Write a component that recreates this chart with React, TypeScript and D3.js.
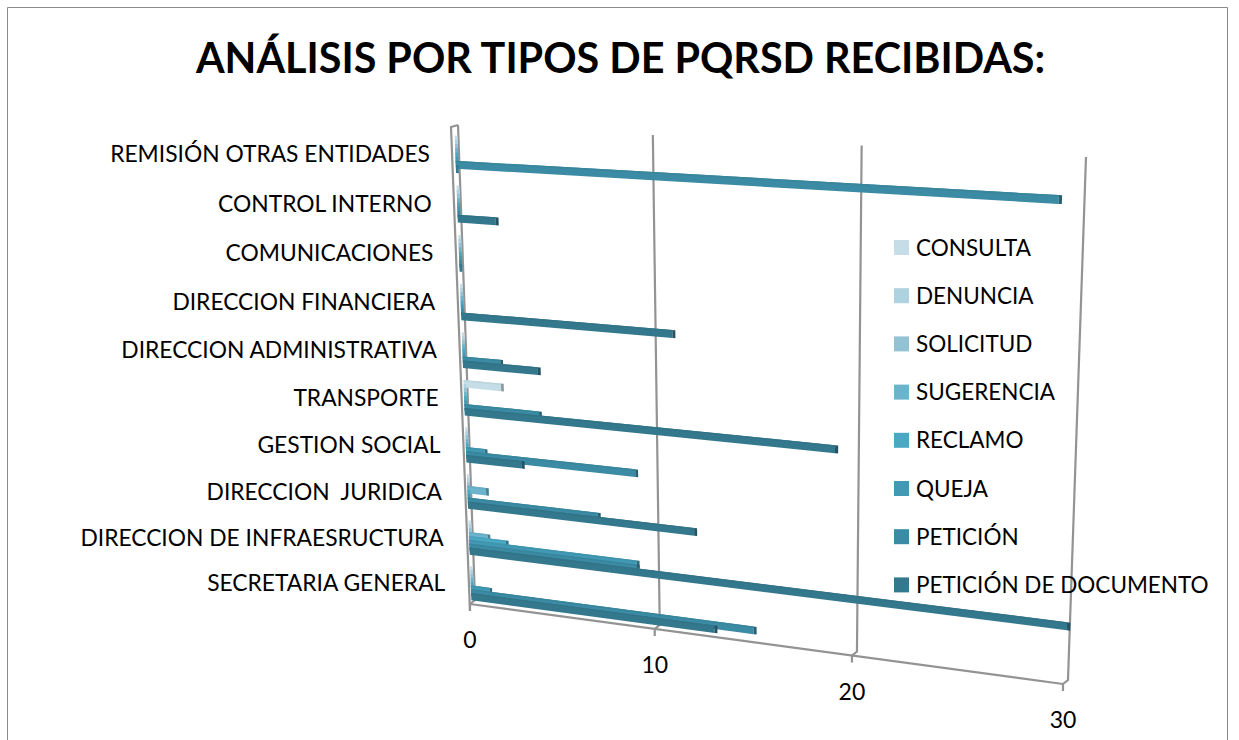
import * as d3 from "d3";

const width = 1239;
const height = 740;

const title = "ANÁLISIS POR TIPOS DE PQRSD RECIBIDAS:";

// bottom to top, as they sit on the axis
const categories = [
  "SECRETARIA GENERAL",
  "DIRECCION DE INFRAESRUCTURA",
  "DIRECCION  JURIDICA",
  "GESTION SOCIAL",
  "TRANSPORTE",
  "DIRECCION ADMINISTRATIVA",
  "DIRECCION FINANCIERA",
  "COMUNICACIONES",
  "CONTROL INTERNO",
  "REMISIÓN OTRAS ENTIDADES",
];

const series = [
  "CONSULTA",
  "DENUNCIA",
  "SOLICITUD",
  "SUGERENCIA",
  "RECLAMO",
  "QUEJA",
  "PETICIÓN",
  "PETICIÓN DE DOCUMENTO",
];

const colors = ["#c5dde6", "#aed2df", "#93c2d5", "#6bb4cc", "#4aa8c3", "#4299b3", "#3a8ba3", "#34788d"];

// one value per category, same order as categories
const consulta = [0, 0, 0, 0, 2, 0, 0, 0, 0, 0];
const denuncia = [0, 0, 0, 0, 0, 0, 0, 0, 0, 0];
const solicitud = [0, 0, 0, 0, 0, 0, 0, 0, 0, 0];
const sugerencia = [0, 1, 1, 0, 0, 0, 0, 0, 0, 0];
const reclamo = [0, 2, 0, 0, 0, 0, 0, 0, 0, 0];
const queja = [1, 9, 0, 1, 0, 0, 0, 0, 0, 0];
const peticion = [15, 9, 7, 9, 4, 2, 0, 0, 0, 29];
const peticionDoc = [13, 30, 12, 3, 19, 4, 11, 0, 2, 0];
const values = [consulta, denuncia, solicitud, sugerencia, reclamo, queja, peticion, peticionDoc];

const ticks = [0, 10, 20, 30];

// corners of the back wall on the page, the chart is a tilted 3D one
const wall = { x00: 475, y00: 600, x10: 1068, y10: 680, x11: 1086, y11: 157, x01: 458, y01: 125 };

function makeProjection({ x00, y00, x10, y10, x11, y11, x01, y01 }: typeof wall) {
  const dx1 = x10 - x11;
  const dx2 = x01 - x11;
  const sx = x00 - x10 + x11 - x01;
  const dy1 = y10 - y11;
  const dy2 = y01 - y11;
  const sy = y00 - y10 + y11 - y01;
  const den = dx1 * dy2 - dx2 * dy1;
  const g = (sx * dy2 - dx2 * sy) / den;
  const h = (dx1 * sy - sx * dy1) / den;
  return (u: number, v: number): [number, number] => {
    const w = g * u + h * v + 1;
    return [
      ((x10 - x00 + g * x10) * u + (x01 - x00 + h * x01) * v + x00) / w,
      ((y10 - y00 + g * y10) * u + (y01 - y00 + h * y01) * v + y00) / w,
    ];
  };
}

const project = makeProjection(wall);

const valueScale = d3.scaleLinear().domain([0, 30]).range([0, 1]);
const catScale = d3.scaleBand<string>().domain(categories).range([0.006, 0.985]).paddingInner(0.25);
// bars overlap each other, the slots are narrower than the bars
const slotScale = d3.scaleBand<string>().domain(series).range([0, catScale.bandwidth()]).paddingInner(-0.9);

const barShift: [number, number] = [-3, 3];
const line = d3.line();

function barPoint(u: number, d: number): [number, number] {
  const [x, y] = project(u, d);
  return [x + barShift[0], y + barShift[1]];
}

function Bar({ cat, s, value }: { cat: string; s: number; value: number }) {
  const top = catScale(cat)! + catScale.bandwidth() - slotScale(series[s])!;
  const bottom = top - slotScale.bandwidth();
  const u0 = -0.001;
  // zero values still leave a thin sliver against the wall
  const u1 = Math.max(valueScale(value), 0.004);
  const color = colors[s];
  const edge = d3.color(color)!.darker(0.12).formatHex();
  const cap = d3.color(color)!.darker(1).formatHex();
  const body = [barPoint(u0, top), barPoint(u1, top), barPoint(u1, bottom), barPoint(u0, bottom)];
  const strip = [barPoint(u0, top), barPoint(u1, top), barPoint(u1, top - 0.003), barPoint(u0, top - 0.003)];
  const end = [barPoint(u1, top), barPoint(u1 + 0.005, top), barPoint(u1 + 0.005, bottom), barPoint(u1, bottom)];
  return (
    <g>
      <path d={line(body)! + "Z"} fill={color} />
      {value > 0 && <path d={line(strip)! + "Z"} fill={edge} />}
      {value > 0 && <path d={line(end)! + "Z"} fill={cap} />}
    </g>
  );
}

export default function App() {
  const gridColor = "#939393";
  const barRows = [...categories].reverse();
  const font = "Lato, 'Noto Sans', sans-serif";

  return (
    <svg
      width={width}
      height={height}
      style={{ position: "absolute", left: 0, top: 0, background: "#fff" }}
      fontFamily={font}
    >
      {/* frame, cut by the bottom of the picture */}
      <path d="M7.5,740V7.5H1227.5V740" fill="none" stroke="#8a8a8a" strokeWidth={1} />

      <text x={620.5} y={73} textAnchor="middle" fontSize={41.3} fontWeight={700} fill="#000">
        {title}
      </text>

      {/* grid and floor */}
      {ticks.map((t) => {
        const u = valueScale(t);
        const [bx, by] = project(u, 0);
        const [tx, ty] = project(u, 1);
        return (
          <g key={t} stroke={gridColor} strokeWidth={2.2} fill="none">
            <path d={`M${tx},${ty}L${bx},${by}L${bx - 5},${by + 4}L${bx - 5},${by + 11}`} />
            <text x={bx - 5} y={by + 48} textAnchor="middle" fontSize={23} fill="#000" stroke="none">
              {t}
            </text>
          </g>
        );
      })}
      <path
        d={line([
          [project(0, 0)[0] - 5, project(0, 0)[1] + 4],
          [project(1, 0)[0] - 5, project(1, 0)[1] + 4],
        ])!}
        stroke={gridColor}
        strokeWidth={2.2}
        fill="none"
      />
      <path
        d={line([
          project(0, 1),
          [project(0, 1)[0] - 7, project(0, 1)[1] + 2],
          [project(0, 0)[0] - 5, project(0, 0)[1] + 11],
        ])!}
        stroke={gridColor}
        strokeWidth={2.2}
        fill="none"
      />

      {/* bars, far rows first so nearer ones overlap them */}
      {barRows.map((cat) =>
        series.map((name, s) => (
          <Bar key={cat + name} cat={cat} s={s} value={values[s][categories.indexOf(cat)]} />
        )),
      )}

      {/* category labels follow the slanted axis */}
      {categories.map((cat) => {
        const d = catScale(cat)! + catScale.bandwidth() / 2;
        const [x, y] = barPoint(0, d);
        return (
          <text
            key={cat}
            x={x - 26}
            y={y + 8}
            textAnchor="end"
            fontSize={22.8}
            fill="#000"
            style={{ whiteSpace: "pre" }}
          >
            {cat}
          </text>
        );
      })}

      {/* legend */}
      {series.map((name, i) => (
        <g key={name}>
          <rect x={894} y={240 + i * 48.2} width={15} height={15} fill={colors[i]} />
          <text x={916} y={255.5 + i * 48.2} fontSize={22.5} fill="#000">
            {name}
          </text>
        </g>
      ))}
    </svg>
  );
}
